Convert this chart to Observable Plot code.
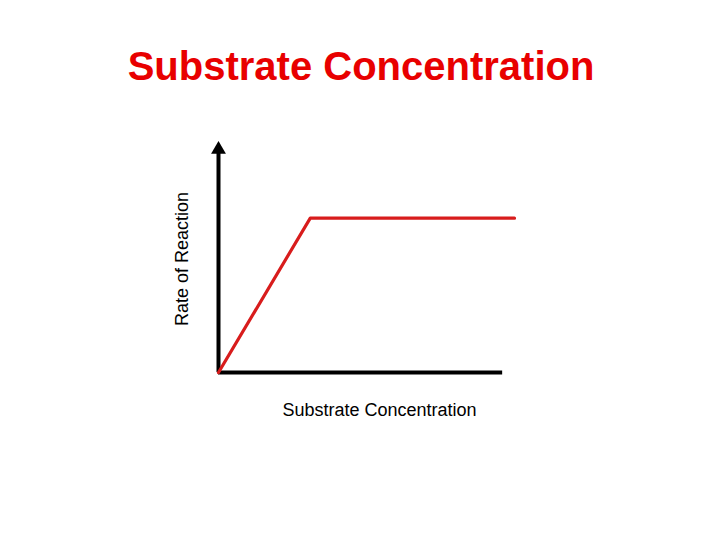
<!DOCTYPE html>
<html>
<head>
<meta charset="utf-8">
<script src="https://cdn.jsdelivr.net/npm/d3@7"></script>
<script src="https://cdn.jsdelivr.net/npm/@observablehq/plot@0.6"></script>
<style>
  html, body { margin: 0; padding: 0; background: #fff; }
  #wrap { position: relative; width: 720px; height: 540px; overflow: hidden; }
  #title { position: absolute; left: 0; top: 0; width: 722px; text-align: center;
    font-family: "Liberation Sans", Arial, sans-serif; font-weight: bold; font-size: 40px;
    color: #e80000; line-height: 40px; padding-top: 46px; margin: 0; }
  #chart { position: absolute; left: 0; top: 100px; }
</style>
</head>
<body>
<div id="wrap">
  <h1 id="title">Substrate Concentration</h1>
  <div id="chart"></div>
</div>
<script>
// Curve data (arbitrary units)
const curveX = [0, 3.1, 10];
const curveY = [0, 6.8, 6.8];
// Axis extents
const xAxisEnd = 9.6;
const yAxisEnd = 10;
const xLabel = "Substrate Concentration";
const yLabel = "Rate of Reaction";

const curve = curveX.map((x, i) => ({x, y: curveY[i]}));
const font = "'Liberation Sans', Arial, sans-serif";

const plot = Plot.plot({
  width: 720,
  height: 440,
  marginLeft: 218,
  marginRight: 206,
  marginTop: 45,
  marginBottom: 168,
  x: {domain: [0, 10], axis: null},
  y: {domain: [0, 10], axis: null},
  style: {fontFamily: font, background: "white"},
  marks: [
    Plot.ruleY([0], {x1: 0, x2: xAxisEnd, stroke: "black", strokeWidth: 4}),
    Plot.ruleX([0], {y1: 0, y2: yAxisEnd - 0.35, stroke: "black", strokeWidth: 4}),
    Plot.dot([{x: 0, y: yAxisEnd}], {x: "x", y: "y", symbol: "triangle", r: 5.5, fill: "black", stroke: "none", dy: 4}),
    Plot.line(curve, {x: "x", y: "y", stroke: "#d81c1c", strokeWidth: 3.2}),
    Plot.text([yLabel], {frameAnchor: "left", textAnchor: "middle", lineAnchor: "middle", rotate: -90, dx: -36, fontSize: 18, fill: "black"}),
    Plot.text([xLabel], {frameAnchor: "bottom", textAnchor: "middle", lineAnchor: "middle", dx: 13, dy: 38, fontSize: 18, fill: "black"})
  ]
});
document.getElementById("chart").appendChild(plot);
</script>
</body>
</html>
